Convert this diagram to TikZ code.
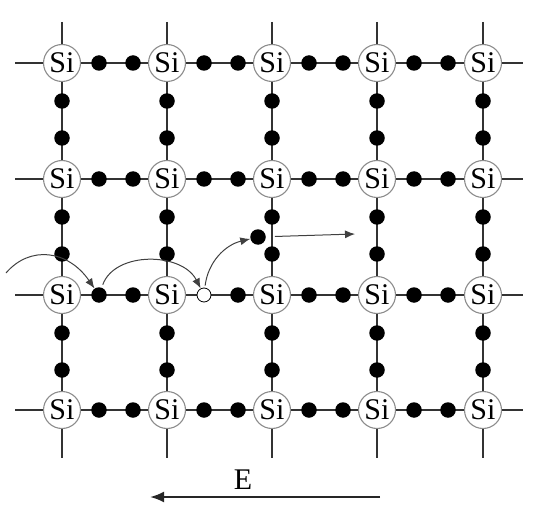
\documentclass[tikz,border=0pt]{standalone}
\usepackage{fontspec}
\setmainfont{Liberation Serif}
\usetikzlibrary{arrows.meta}

\tikzset{
  atom/.style={circle, draw=black!45, line width=1.1pt, fill=white,
    minimum size=37pt, inner sep=0pt, font=\fontsize{30}{30}\selectfont},
  bond/.style={line width=2pt, black!80},
  elec/.style={circle, fill=black, minimum size=15.5pt, inner sep=0pt},
  hole/.style={circle, draw=black, line width=0.8pt, fill=white, minimum size=14pt, inner sep=0pt},
  jump/.style={line width=1pt, black!75, -{Latex[length=10pt,width=8pt]}},
  field/.style={line width=2.2pt, black!85, -{Latex[length=14pt,width=11pt]}},
}

\begin{document}
\begin{tikzpicture}[x=1pt,y=-1pt]
\useasboundingbox (0,0) rectangle (535,505);

% silicon atoms
\foreach \c/\x in {1/62,2/167,3/272,4/377,5/483}{
  \foreach \r/\y in {1/63,2/179,3/295,4/410}{
    \node[atom] (si\c\r) at (\x,\y) {Si};
  }
}

% bonds along the rows
\foreach \r/\y in {1/63,2/179,3/295,4/410}{
  \coordinate (west\r) at (15,\y);
  \coordinate (east\r) at (523,\y);
  \draw[bond] (west\r) -- (si1\r) -- (si2\r) -- (si3\r) -- (si4\r) -- (si5\r) -- (east\r);
}
% bonds along the columns
\foreach \c/\x in {1/62,2/167,3/272,4/377,5/483}{
  \coordinate (north\c) at (\x,22);
  \coordinate (south\c) at (\x,458);
  \draw[bond] (north\c) -- (si\c1) -- (si\c2) -- (si\c3) -- (si\c4) -- (south\c);
}

% bond electrons, one hole in the third row
\foreach \c/\x in {1/62,2/167,3/272,4/377}{
  \foreach \r/\y in {1/63,2/179,3/295,4/410}{
    \ifnum\c\r=23
      \node[hole] (hole) at (\x+37,\y) {};
    \else
      \node[elec] (hdot\c\r a) at (\x+37,\y) {};
    \fi
    \node[elec] (hdot\c\r b) at (\x+71,\y) {};
  }
}
\foreach \c/\x in {1/62,2/167,3/272,4/377,5/483}{
  \foreach \r/\y in {1/63,2/179,3/295}{
    \node[elec] (vdot\c\r a) at (\x,\y+38) {};
    \node[elec] (vdot\c\r b) at (\x,\y+75) {};
  }
}

% free electron
\node[elec] (free) at (258,237) {};
\coordinate (drift) at (355,234);
\draw[jump, shorten <=9pt] (free) -- (drift);

% hops of the bound electrons
\coordinate (start) at (6,273);
\draw[jump] (start) .. controls (30,245) and (68,250) .. (hdot13a);
\draw[jump, shorten <=3pt] (hdot13a) .. controls (115,251) and (182,252) .. (hole);
\draw[jump, shorten <=2pt] (hole) .. controls (208,262) and (225,245) .. (free);

% applied field
\coordinate (fieldR) at (380,497);
\coordinate (fieldL) at (150,497);
\draw[field] (fieldR) -- (fieldL);
\node[font=\fontsize{30}{30}\selectfont] (lblE) at (243,480) {E};

\end{tikzpicture}
\end{document}
